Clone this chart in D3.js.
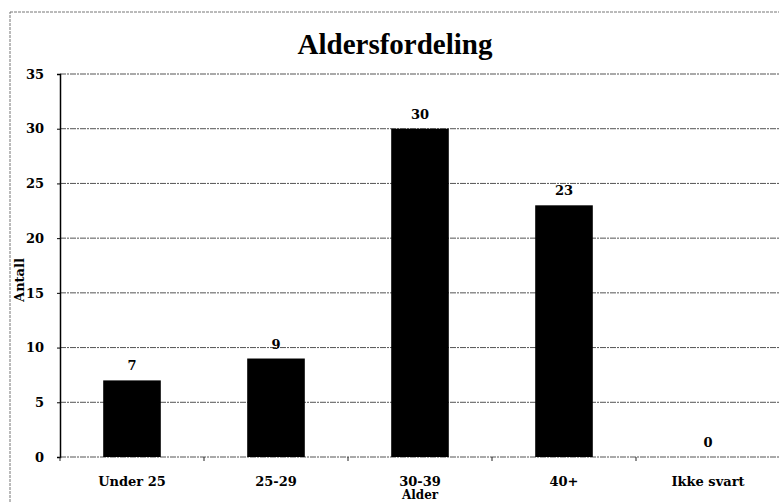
<!DOCTYPE html>
<html lang="no">
<head>
<meta charset="utf-8" />
<title>Aldersfordeling</title>
<style>
  body { margin:0; background:#fff; }
  svg  { display:block; }
  text { font-family:"DejaVu Serif","Liberation Serif",serif; font-weight:bold; fill:#000; }
  .title { font-family:"Liberation Serif","DejaVu Serif",serif; }
  .grid line { stroke:#555; stroke-width:1; stroke-dasharray:6 1 2 1; }
</style>
</head>
<body>
<svg width="779" height="502"></svg>
<script src="https://cdn.jsdelivr.net/npm/d3@7"></script>
<script>
/* ---------- DATA ---------- */
const categories = ["Under 25", "25-29", "30-39", "40+", "Ikke svart"];
const counts     = [7, 9, 30, 23, 0];
const yTicks     = [0, 5, 10, 15, 20, 25, 30, 35];

/* ---------- LAYOUT ---------- */
const W = 779, H = 502;
const m = { left:60, right:-1, top:74, bottom:45 };
const svg = d3.select("svg");

// outer chart frame (right/bottom run off the page)
svg.append("rect")
   .attr("x",10).attr("y",12).attr("width",W).attr("height",H)
   .attr("fill","none").attr("stroke","#777").attr("stroke-dasharray","3 1");

const x = d3.scaleBand().domain(categories).range([m.left, W - m.right]).paddingInner(0.6).paddingOuter(0.3);
const y = d3.scaleLinear().domain([0, 35]).range([H - m.bottom, m.top]);

/* ---------- GRID ---------- */
svg.append("g").attr("class","grid")
  .selectAll("line").data(yTicks).join("line")
    .attr("x1",m.left).attr("x2",W)
    .attr("y1",d=>y(d)).attr("y2",d=>y(d));

/* ---------- AXES ---------- */
const yAxis = svg.append("g")
  .attr("transform",`translate(${m.left},0)`)
  .call(d3.axisLeft(y).tickValues(yTicks).tickSize(3).tickPadding(13));
yAxis.select(".domain").attr("stroke","#000").attr("stroke-width",1.5);
yAxis.selectAll("text").style("font-size","13px").style("font-family",null);

// category boundary ticks on the x axis
const step = x.step();
const xAxis = svg.append("g").attr("transform",`translate(0,${y(0)})`);
xAxis.selectAll("line").data(d3.range(categories.length + 1)).join("line")
  .attr("x1",i=>m.left + i*step).attr("x2",i=>m.left + i*step)
  .attr("y1",0).attr("y2",4).attr("stroke","#222");
xAxis.selectAll("text").data(categories).join("text")
  .attr("x",d=>x(d) + x.bandwidth()/2).attr("y",29)
  .attr("text-anchor","middle").style("font-size","13px")
  .text(d=>d);

/* ---------- BARS ---------- */
const data = categories.map((c,i)=>({ cat:c, v:counts[i] }));
svg.append("g").selectAll("rect").data(data).join("rect")
  .attr("x",d=>x(d.cat)).attr("width",x.bandwidth())
  .attr("y",d=>y(d.v)).attr("height",d=>y(0) - y(d.v))
  .attr("fill","#000");

svg.append("g").selectAll("text").data(data).join("text")
  .attr("x",d=>x(d.cat) + x.bandwidth()/2).attr("y",d=>y(d.v) - 10)
  .attr("text-anchor","middle").style("font-size","13px")
  .text(d=>d.v);

/* ---------- TITLES ---------- */
svg.append("text").attr("class","title").attr("x",395).attr("y",54)
  .attr("text-anchor","middle").style("font-size","29px").text("Aldersfordeling");

svg.append("text").attr("x",420).attr("y",499)
  .attr("text-anchor","middle").style("font-size","12px").text("Alder");

svg.append("text")
  .attr("transform",`translate(24,280) rotate(-90)`)
  .attr("text-anchor","middle").style("font-size","13px").text("Antall");
</script>
</body>
</html>
